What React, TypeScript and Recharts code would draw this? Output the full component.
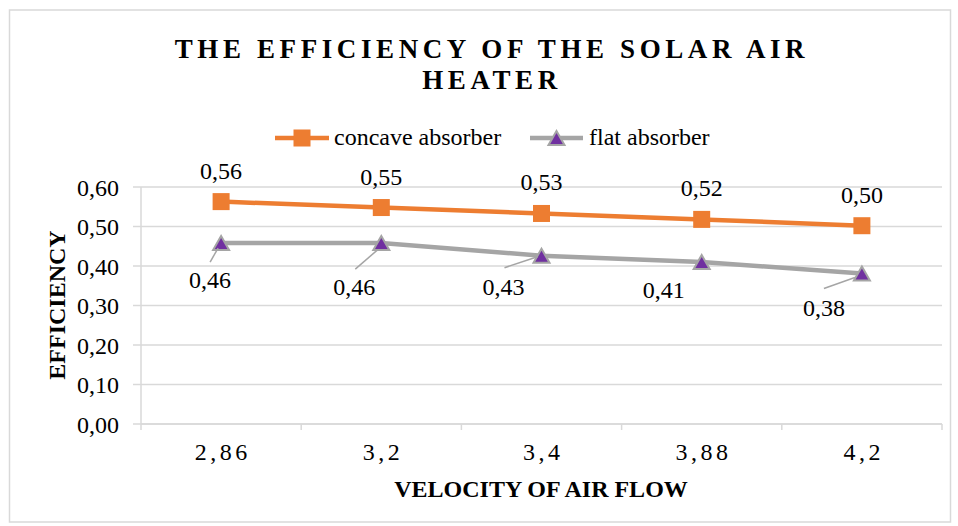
import React from 'react';
import { LineChart, Line, XAxis, YAxis, CartesianGrid } from 'recharts';

const velocities = ['2,86', '3,2', '3,4', '3,88', '4,2'];
const concaveEfficiency = [0.563, 0.548, 0.533, 0.518, 0.502];
const flatEfficiency = [0.458, 0.458, 0.426, 0.41, 0.381];
const yTicks = [0, 0.1, 0.2, 0.3, 0.4, 0.5, 0.6];

const data = velocities.map((v, i) => ({
  velocity: v,
  concave: concaveEfficiency[i],
  flat: flatEfficiency[i],
}));

const W = 958;
const H = 526;
const FONT = '"Liberation Serif", "Times New Roman", serif';
const ORANGE = '#ED7D31';
const GRAY = '#A5A5A5';
const PURPLE = '#7030A0';
const GRID = '#d9d9d9';
const PLOT_LEFT = 141;
const PLOT_RIGHT = 942;
const PLOT_TOP = 187;
const PLOT_BOTTOM = 424;
const Y_AXIS_W = 60;
const X_AXIS_H = 60;
const bandW = (PLOT_RIGHT - PLOT_LEFT) / velocities.length;

const fmt = (v: number) => Number(v).toFixed(2).replace('.', ',');
const serif: React.CSSProperties = { fontFamily: FONT };

// label placement (style) for the flat-absorber data labels, relative to the point
const flatLabelPos = [
  { dx: -11, dy: 45, leader: [-11, 19, -3, 5] },
  { dx: -27, dy: 52, leader: [-26, 26, -4, 7] },
  { dx: -38, dy: 39, leader: [-37, 12, -4, 1] },
  { dx: -38, dy: 36, leader: null as number[] | null },
  { dx: -38, dy: 42, leader: [-38, 15, -7, 4] },
];

const ConcaveLabel = (p: any) => (
  <text x={p.x} y={p.y - 23} textAnchor="middle" fontSize={24} style={serif} fill="#000">
    {fmt(p.value)}
  </text>
);

const FlatLabel = (p: any) => {
  const pos = flatLabelPos[p.index] || { dx: 0, dy: 40, leader: null };
  const l = pos.leader;
  return (
    <g>
      {l && (
        <line
          x1={p.x + l[0]}
          y1={p.y + l[1]}
          x2={p.x + l[2]}
          y2={p.y + l[3]}
          stroke={GRAY}
          strokeWidth={1.5}
        />
      )}
      <text x={p.x + pos.dx} y={p.y + pos.dy} textAnchor="middle" fontSize={24} style={serif} fill="#000">
        {fmt(p.value)}
      </text>
    </g>
  );
};

const SquareDot = (p: any) => {
  if (p.cx == null || p.cy == null) return <g key={p.index} />;
  return <rect key={`sq-${p.index}`} x={p.cx - 8.5} y={p.cy - 8.5} width={17} height={17} fill={ORANGE} />;
};

const TriangleDot = (p: any) => {
  if (p.cx == null || p.cy == null) return <g key={p.index} />;
  const { cx, cy } = p;
  return (
    <polygon
      key={`tr-${p.index}`}
      points={`${cx},${cy - 7} ${cx - 8},${cy + 7} ${cx + 8},${cy + 7}`}
      fill={PURPLE}
      stroke={GRAY}
      strokeWidth={2}
    />
  );
};

const XTick = (p: any) => {
  const { x, payload, index } = p;
  const half = bandW / 2;
  return (
    <g>
      <line x1={x - half} y1={PLOT_BOTTOM} x2={x - half} y2={PLOT_BOTTOM + 6} stroke={GRID} strokeWidth={1.5} />
      {index === velocities.length - 1 && (
        <line x1={x + half} y1={PLOT_BOTTOM} x2={x + half} y2={PLOT_BOTTOM + 6} stroke={GRID} strokeWidth={1.5} />
      )}
      <text x={x + 1.75} y={460} textAnchor="middle" fontSize={24} style={serif} fill="#000" letterSpacing={3.5}>
        {payload.value}
      </text>
    </g>
  );
};

export default function App() {
  return (
    <div style={{ position: 'absolute', left: 0, top: 0, width: W, height: H, background: '#fff', fontFamily: FONT }}>
      <LineChart
        width={W}
        height={H}
        data={data}
        style={serif}
        margin={{
          top: PLOT_TOP,
          right: W - PLOT_RIGHT,
          bottom: H - PLOT_BOTTOM - X_AXIS_H,
          left: PLOT_LEFT - Y_AXIS_W,
        }}
      >
        <CartesianGrid vertical={false} stroke={GRID} strokeWidth={1.5} />
        <XAxis
          dataKey="velocity"
          scale="band"
          interval={0}
          height={X_AXIS_H}
          tickLine={false}
          axisLine={{ stroke: GRID, strokeWidth: 1.5 }}
          tick={<XTick />}
        />
        <YAxis
          domain={[0, 0.6]}
          ticks={yTicks}
          interval={0}
          width={Y_AXIS_W}
          tickSize={8}
          tickMargin={14}
          tickFormatter={fmt}
          tickLine={{ stroke: GRID, strokeWidth: 1.5 }}
          axisLine={{ stroke: GRID, strokeWidth: 1.5 }}
          tick={{ fontSize: 24, fill: '#000', fontFamily: FONT, style: serif }}
        />
        <Line
          dataKey="concave"
          stroke={ORANGE}
          strokeWidth={4.5}
          dot={SquareDot}
          activeDot={false}
          label={ConcaveLabel}
          isAnimationActive={false}
        />
        <Line
          dataKey="flat"
          stroke={GRAY}
          strokeWidth={4.5}
          dot={TriangleDot}
          activeDot={false}
          label={FlatLabel}
          isAnimationActive={false}
        />
      </LineChart>
      <svg
        width={W}
        height={H}
        style={{ position: 'absolute', left: 0, top: 0, pointerEvents: 'none', fontFamily: FONT }}
      >
        <rect x={9.5} y={10} width={941} height={512} fill="none" stroke={GRID} strokeWidth={1.5} />
        <text x={492} y={58} textAnchor="middle" fontSize={27} fontWeight="bold" style={serif} letterSpacing={4.6} fill="#000">
          THE EFFICIENCY OF THE SOLAR AIR
        </text>
        <text x={492} y={89} textAnchor="middle" fontSize={27} fontWeight="bold" style={serif} letterSpacing={4.6} fill="#000">
          HEATER
        </text>
        {/* legend */}
        <line x1={275} y1={138} x2={329} y2={138} stroke={ORANGE} strokeWidth={4.5} />
        <rect x={293.5} y={129.5} width={17} height={17} fill={ORANGE} />
        <text x={334} y={145} fontSize={24} style={serif} fill="#000">concave absorber</text>
        <line x1={530} y1={138} x2={583} y2={138} stroke={GRAY} strokeWidth={4.5} />
        <polygon points="556.5,131 548.5,145 564.5,145" fill={PURPLE} stroke={GRAY} strokeWidth={2} />
        <text x={589} y={145} fontSize={24} style={serif} fill="#000">flat absorber</text>
        {/* axis titles */}
        <text
          x={57}
          y={305}
          dy="0.35em"
          transform="rotate(-90, 57, 305)"
          textAnchor="middle"
          fontSize={24}
          fontWeight="bold"
          style={serif}
          fill="#000"
        >
          EFFICIENCY
        </text>
        <text x={541} y={497} textAnchor="middle" fontSize={24} fontWeight="bold" style={serif} fill="#000">
          VELOCITY OF AIR FLOW
        </text>
      </svg>
    </div>
  );
}
